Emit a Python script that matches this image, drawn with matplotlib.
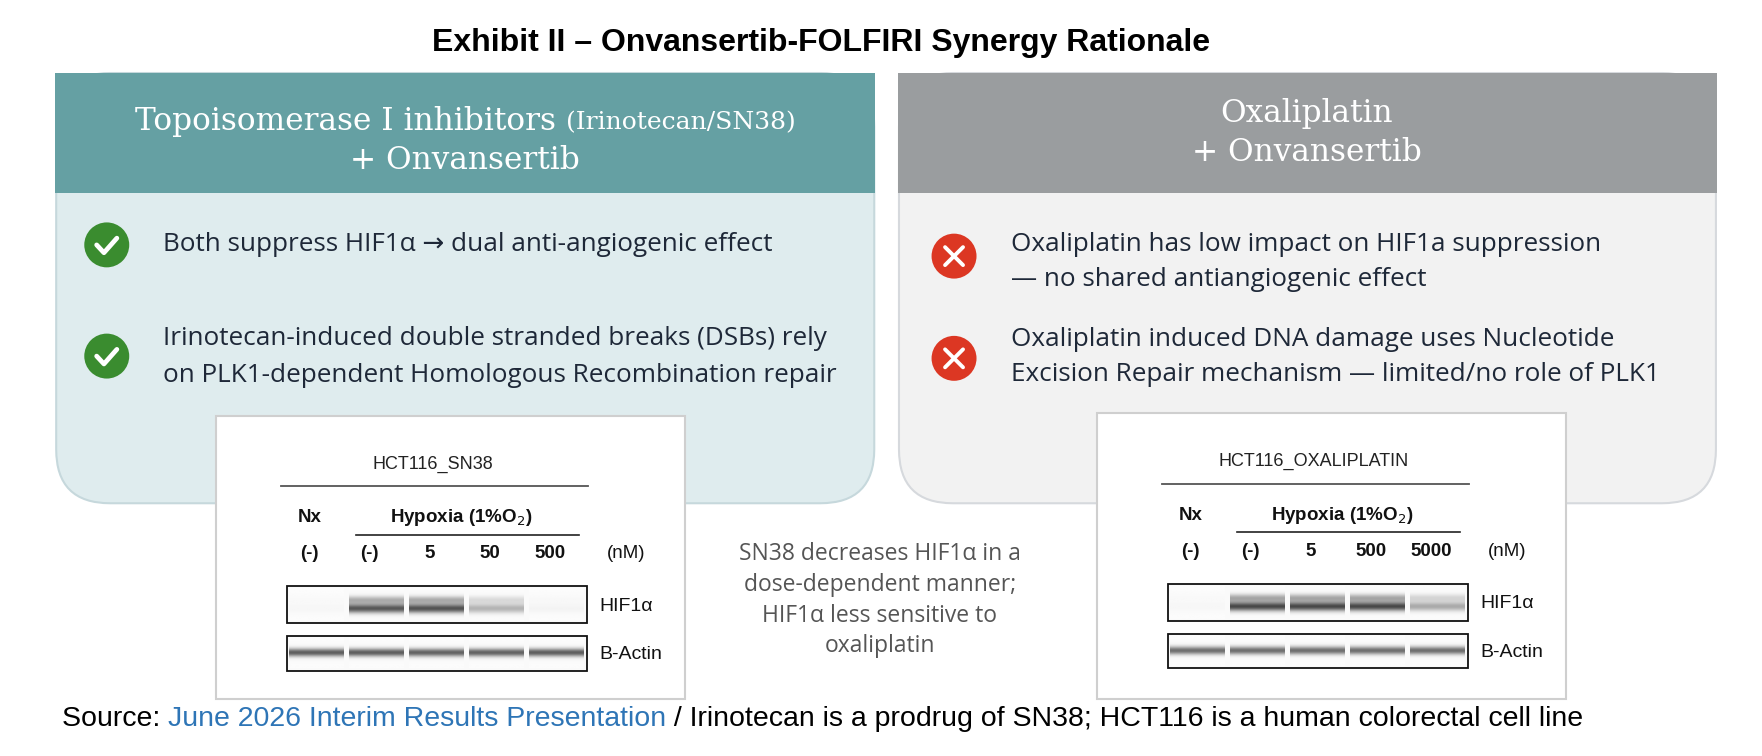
import numpy as np
import matplotlib
matplotlib.use("Agg")
import matplotlib.pyplot as plt
from matplotlib.patches import FancyBboxPatch, Rectangle, Circle

# ---- content ----
title = "Exhibit II \u2013 Onvansertib-FOLFIRI Synergy Rationale"
left_head = ["Topoisomerase I inhibitors ", "(Irinotecan/SN38)", "+ Onvansertib"]
right_head = ["Oxaliplatin", "+ Onvansertib"]
left_points = [["Both suppress HIF1\u03b1 \u2192 dual anti-angiogenic effect"],
               ["Irinotecan-induced double stranded breaks (DSBs) rely",
                "on PLK1-dependent Homologous Recombination repair"]]
right_points = [["Oxaliplatin has low impact on HIF1a suppression",
                 "\u2014 no shared antiangiogenic effect"],
                ["Oxaliplatin induced DNA damage uses Nucleotide",
                 "Excision Repair mechanism \u2014 limited/no role of PLK1"]]
middle_note = ["SN38 decreases HIF1\u03b1 in a", "dose-dependent manner;",
               "HIF1\u03b1 less sensitive to", "oxaliplatin"]

left_blot_title = "HCT116_SN38"
left_doses = ["(-)", "(-)", "5", "50", "500"]
left_hif = [0.02, 0.64, 0.66, 0.28, 0.03]
left_actin = [0.62, 0.62, 0.60, 0.60, 0.62]

right_blot_title = "HCT116_OXALIPLATIN"
right_doses = ["(-)", "(-)", "5", "500", "5000"]
right_hif = [0.02, 0.70, 0.70, 0.70, 0.32]
right_actin = [0.55, 0.55, 0.55, 0.55, 0.55]

source_parts = [("Source: ", "black"),
                ("June 2026 Interim Results Presentation", "#2E75B6"),
                (" / Irinotecan is a prodrug of SN38; HCT116 is a human colorectal cell line", "black")]

# ---- figure in 1568 x 673 working units ----
W, H = 1568, 673
fig = plt.figure(figsize=(17.62, 7.56), dpi=100)
ax = fig.add_axes([0, 0, 1, 1])
ax.set_xlim(0, W)
ax.set_ylim(H, 0)
ax.axis("off")

body_font = ["Open Sans", "DejaVu Sans"]
blot_font = "Liberation Sans"
navy = "#1E2838"


def panel(x0, x1, head_col, body_col, edge_col):
    y0, y1, hh = 65, 448, 107
    ax.add_patch(FancyBboxPatch((x0, y0), x1 - x0, y1 - y0,
                                boxstyle="round,pad=0,rounding_size=48",
                                fc=body_col, ec=edge_col, lw=1.5, zorder=1))
    ax.add_patch(Rectangle((x0 - 1, y0), x1 - x0 + 2, hh, fc=head_col, ec="none", zorder=2))


panel(50, 778, "#65A0A3", "#DFECEE", "#C6D8DC")
panel(800, 1527, "#9A9D9F", "#F2F2F2", "#D6D9DD")

ax.text(731, 38, title, ha="center", va="center", fontsize=23, fontweight="bold",
        family=blot_font, color="black")

# headers
hfont = dict(family="DejaVu Serif", color="white", va="center", zorder=3)
t1 = ax.text(0, 108, left_head[0], ha="left", fontsize=22.5, **hfont)
t2 = ax.text(0, 109, left_head[1], ha="left", fontsize=18, **hfont)
ax.text(414, 143, left_head[2], ha="center", fontsize=22.5, **hfont)
ax.text(1163, 101, right_head[0], ha="center", fontsize=22.5, **hfont)
ax.text(1163, 136, right_head[1], ha="center", fontsize=22.5, **hfont)

fig.canvas.draw()
r = fig.canvas.get_renderer()
inv = ax.transData.inverted()


def width(t):
    bb = t.get_window_extent(r)
    a = inv.transform((bb.x0, 0))[0]
    b = inv.transform((bb.x1, 0))[0]
    return b - a


w1, w2 = width(t1), width(t2)
start = 414 - (w1 + w2) / 2
t1.set_x(start)
t2.set_x(start + w1)


# icons
def check(cx, cy):
    ax.add_patch(Circle((cx, cy), 20, fc="#3A8C2F", ec="none", zorder=3))
    ax.plot([cx - 9, cx - 2.5, cx + 9], [cy, cy + 7, cy - 6], color="white", lw=3.4,
            solid_capstyle="round", solid_joinstyle="round", zorder=4)


def cross(cx, cy):
    ax.add_patch(Circle((cx, cy), 20, fc="#DC3723", ec="none", zorder=3))
    d = 8
    ax.plot([cx - d, cx + d], [cy - d, cy + d], color="white", lw=2.8, solid_capstyle="round", zorder=4)
    ax.plot([cx - d, cx + d], [cy + d, cy - d], color="white", lw=2.8, solid_capstyle="round", zorder=4)


item_y_left = [218, 301]
item_y_right = [218, 302]
for pts, yy in zip(left_points, item_y_left):
    icon_y = yy if len(pts) == 1 else yy + 16
    check(95, icon_y)
    for k, line in enumerate(pts):
        ax.text(145, yy + k * 33, line, ha="left", va="center", fontsize=18.8,
                family=body_font, color=navy, zorder=3)
for pts, yy in zip(right_points, item_y_right):
    cross(849, yy + 10 if yy < 250 else yy + 17)
    for k, line in enumerate(pts):
        ax.text(900, yy + k * 31, line, ha="left", va="center", fontsize=18.8,
                family=body_font, color=navy, zorder=3)


# western blots
def band_img(intensity, kind):
    n = 60
    y = np.linspace(0, 1, n)
    if kind == "hif":
        prof = np.exp(-((y - 0.62) / 0.14) ** 2) + 0.45 * np.exp(-((y - 0.36) / 0.12) ** 2)
    else:
        prof = np.exp(-((y - 0.5) / 0.13) ** 2)
    prof = np.clip(prof, 0, 1)
    return (0.985 - intensity * prof)[:, None]


def blot(bx0, by0, by1, title_txt, doses, hif, actin):
    # white card
    ax.add_patch(Rectangle((bx0, by0), 418, by1 - by0, fc="white", ec="#CFCFCF", lw=1.5, zorder=5))
    ox = bx0 + 63
    ax.text(ox + 130, by0 + 43, title_txt, ha="center", va="center", fontsize=13,
            family=blot_font, color="#222222", zorder=6)
    ax.plot([ox - 5, ox + 268], [by0 + 63, by0 + 63], color="#555555", lw=1.3, zorder=6)
    bw = 267 / len(doses)
    centers = [ox + bw * (i + 0.5) for i in range(len(doses))]
    bold = dict(fontsize=13.5, fontweight="bold", family=blot_font, color="#111111", zorder=6,
                ha="center", va="center")
    ax.text(centers[0] - 6, by0 + 91, "Nx", **bold)
    ax.text((centers[1] + centers[-1]) / 2 - 5, by0 + 91, "Hypoxia (1%O$_2$)", **bold)
    ax.plot([centers[1] - 18, centers[-1] + 20], [by0 + 106, by0 + 106], color="#222222",
            lw=1.2, zorder=6)
    for c, d in zip(centers, doses):
        ax.text(c - 6, by0 + 123, d, **bold)
    ax.text(ox + 302, by0 + 123, "(nM)", fontsize=13.5, family=blot_font, color="#111111",
            zorder=6, ha="center", va="center")
    rows = [(by0 + 152, 33, hif, "hif", "HIF1\u03b1"), (by0 + 196, 31, actin, "act", "B-Actin")]
    for ry, rh, vals, kind, lab in rows:
        ax.add_patch(Rectangle((ox, ry), 267, rh, fc="#FAFAFA", ec="none", zorder=6))
        ax.add_patch(Rectangle((ox, ry), 267, rh, fc="none", ec="#111111", lw=1.3, zorder=8))
        for c, v in zip(centers, vals):
            ax.imshow(band_img(v, kind), cmap="gray", vmin=0, vmax=1, aspect="auto",
                      extent=(c - bw / 2 + 2.5, c + bw / 2 - 2.5, ry + rh - 2, ry + 2),
                      interpolation="bilinear", zorder=7)
        ax.text(ox + 278, ry + rh / 2 + 1, lab, fontsize=14, family=blot_font,
                color="#111111", ha="left", va="center", zorder=6)


blot(192, 370, 622, left_blot_title, left_doses, left_hif, left_actin)
blot(976, 368, 622, right_blot_title, right_doses, right_hif, right_actin)
ax.set_xlim(0, W)
ax.set_ylim(H, 0)

for k, line in enumerate(middle_note):
    ax.text(783, 493 + k * 27.5, line, ha="center", va="center", fontsize=16.5,
            family=body_font, color="#555555", zorder=3)

# source line
x = 55
for txt, col in source_parts:
    t = ax.text(x, 640, txt, ha="left", va="center", fontsize=20.5, family=blot_font, color=col)
    fig.canvas.draw()
    x += width(t)

fig.savefig("out.png", dpi=100)
